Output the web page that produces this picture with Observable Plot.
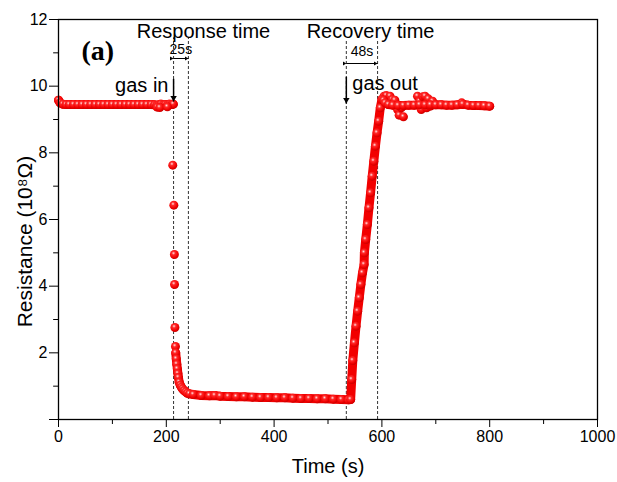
<!DOCTYPE html>
<html>
<head>
<meta charset="utf-8">
<script src="https://cdn.jsdelivr.net/npm/d3@7"></script>
<script src="https://cdn.jsdelivr.net/npm/@observablehq/plot@0.6"></script>
<style>
  body { margin: 0; background: #fff; }
  #chart { width: 617px; height: 482px; }
</style>
</head>
<body>
<div id="chart"></div>
<script>
// ---- Data (time in s, resistance in 10^8 Ω) ----
const baseTime = [0,3,8,14,20,28,36,44,52,60,68,76,84,92,100,108,116,124,132,140,148,156,164,172,178,182,186,190,194,198,202,206,210,213];
const baseRes  = [9.58,9.5,9.46,9.45,9.45,9.45,9.45,9.45,9.45,9.45,9.45,9.45,9.45,9.45,9.45,9.45,9.45,9.45,9.45,9.45,9.45,9.45,9.45,9.45,9.44,9.42,9.44,9.46,9.44,9.45,9.44,9.46,9.45,9.46];

const dropTime = [212,214,215,215.3,216,217];
const dropRes  = [7.63,6.43,4.95,4.05,2.76,2.19];

const tailTime = [217.5,218.5,219.5,220.5,221.5,222.5,224,226,228,230,233,236,239,243];
const tailRes  = [2.0,1.82,1.66,1.52,1.38,1.26,1.12,1.03,0.97,0.92,0.87,0.83,0.79,0.77];

const plateauTime = [250,265,280,290,300,315,330,345,360,375,390,405,420,435,450,465,480,495,510,525,538];
const plateauRes  = [0.75,0.72,0.71,0.72,0.70,0.69,0.68,0.68,0.67,0.66,0.66,0.65,0.65,0.64,0.63,0.63,0.62,0.62,0.61,0.60,0.59];

const recoveryTime = [542,544,546,549,552,555,558,561,564,567,567.5,570,573,576,579,582,585,588,591,594,597,600];
const recoveryRes  = [0.6,1.2,1.77,2.3,2.8,3.25,3.65,4.05,4.4,4.65,5.0,5.4,5.85,6.35,6.8,7.3,7.75,8.2,8.6,8.95,9.35,9.6];

const afterTime = [603,606,612,620,630,640,650,660,670,680,690,700,710,720,730,740,750,760,770,780,790,800];
const afterRes  = [9.58,9.5,9.45,9.43,9.42,9.42,9.43,9.43,9.44,9.44,9.44,9.44,9.44,9.43,9.43,9.44,9.46,9.43,9.42,9.42,9.41,9.4];

const bumpTime = [183,188,202,604,608,611,615,619,624,629,632,636,640,666,670,673,676,680,683,686,690,694,748];
const bumpRes  = [9.37,9.36,9.38,9.7,9.72,9.55,9.7,9.6,9.58,9.3,9.13,9.35,9.08,9.7,9.55,9.3,9.68,9.7,9.35,9.62,9.4,9.55,9.5];

// axis ticks
const xTicks = [0,200,400,600,800,1000];
const xMinor = [100,300,500,700,900];
const yTicks = [0,2,4,6,8,10,12];
const yMinor = [1,3,5,7,9,11];

// annotation values (data units)
const gasInTime = 213.5, gasOutTime = 534;
const responseLines = [213.5, 241];
const recoveryLines = [534, 592];
const labels = [
  {t: 269, r: 11.64, text: "Response time", size: 20, anchor: "middle"},
  {t: 579, r: 11.64, text: "Recovery time", size: 20, anchor: "middle"},
  {t: 227, r: 11.1, text: "25s", size: 14, anchor: "middle"},
  {t: 563, r: 11.04, text: "48s", size: 14, anchor: "middle"},
  {t: 204, r: 10.02, text: "gas in", size: 20, anchor: "end"},
  {t: 545, r: 10.08, text: "gas out", size: 20, anchor: "start"}
];

const zip = (ts, rs) => ts.map((t, i) => ({t, r: rs[i]}));
const baseline = zip(baseTime, baseRes);
const mainTrace = [
  ...zip(tailTime, tailRes),
  ...zip(plateauTime, plateauRes),
  ...zip(recoveryTime, recoveryRes),
  ...zip(afterTime, afterRes)
];
const scatter = [...zip(dropTime, dropRes), ...zip(bumpTime, bumpRes)];
const allDots = [...baseline, ...scatter, ...mainTrace];

const vlines = [...responseLines, ...recoveryLines].map(t => ({t}));
const band = {x: "t", y: "r", stroke: "#f20000", strokeWidth: 9, strokeLinecap: "round", strokeLinejoin: "round"};

const plot = Plot.plot({
  width: 617,
  height: 482,
  marginLeft: 58,
  marginRight: 20,
  marginTop: 19,
  marginBottom: 63,
  style: {fontFamily: "'Liberation Sans', Arial, sans-serif", fontSize: "16px", color: "black", background: "white"},
  x: {domain: [0, 1000], ticks: xTicks, tickSize: 8, tickPadding: 3, label: null, tickFormat: d => String(d)},
  y: {domain: [0, 12], ticks: yTicks, tickSize: 9, tickPadding: 2, label: null,
      tickFormat: d => d === 0 ? "" : String(d)},
  marks: [
    // minor ticks
    Plot.ruleX(xMinor, {x: d => d, y1: 0, y2: -0.15, stroke: "black", strokeWidth: 1}),
    Plot.ruleY(yMinor, {y: d => d, x1: 0, x2: -9, stroke: "black", strokeWidth: 1}),
    // dashed guide lines
    Plot.ruleX(vlines.slice(0, 2), {x: "t", y1: 0, y2: 11.45, stroke: "#333", strokeWidth: 1, strokeDasharray: "3,2"}),
    Plot.ruleX(vlines.slice(2), {x: "t", y1: 0, y2: 11.4, stroke: "#333", strokeWidth: 1, strokeDasharray: "3,2"}),
    // data bands and spheres
    Plot.line(baseline, band),
    Plot.line(mainTrace, band),
    Plot.dot(allDots, {x: "t", y: "r", r: 4.5, fill: "url(#ball)", stroke: "none"}),
    // arrows
    Plot.link([{x1: responseLines[0], x2: responseLines[1]}], {x1: "x1", x2: "x2", y1: 10.83, y2: 10.83, stroke: "black", strokeWidth: 1, markerStart: "arrow", markerEnd: "arrow"}),
    Plot.link([{x1: recoveryLines[0], x2: recoveryLines[1]}], {x1: "x1", x2: "x2", y1: 10.68, y2: 10.68, stroke: "black", strokeWidth: 1, markerStart: "arrow", markerEnd: "arrow"}),
    Plot.link([{t: gasInTime}], {x1: "t", x2: "t", y1: 10.22, y2: 9.54, stroke: "black", strokeWidth: 1.5, markerEnd: "arrow"}),
    Plot.link([{t: gasOutTime}], {x1: "t", x2: "t", y1: 10.28, y2: 9.48, stroke: "black", strokeWidth: 1.5, markerEnd: "arrow"}),
    // annotation text
    ...labels.map(l => Plot.text([l], {x: "t", y: "r", text: "text", fontSize: l.size, textAnchor: l.anchor, fill: "black"})),
    Plot.text(["(a)"], {frameAnchor: "top-left", dx: 23, dy: 21, fontSize: 28, fontWeight: "bold", fontFamily: "'Liberation Serif', 'Times New Roman', serif", textAnchor: "start", lineAnchor: "top", fill: "black"}),
    // axis titles
    Plot.text(["Time (s)"], {frameAnchor: "bottom", dy: 47, fontSize: 20, lineAnchor: "middle", textAnchor: "middle", fill: "black"}),
    Plot.text(["Resistance (10⁸Ω)"], {frameAnchor: "left", dx: -33, dy: 22, rotate: -90, fontSize: 21, textAnchor: "middle", lineAnchor: "middle", fill: "black"}),
    Plot.frame({stroke: "black", strokeWidth: 1.3})
  ]
});

// sphere gradient + filled arrowheads
const svg = d3.select(plot);
const defs = svg.insert("defs", ":first-child");
const g = defs.append("radialGradient").attr("id", "ball").attr("cx", "0.4").attr("cy", "0.35").attr("r", "0.65");
g.append("stop").attr("offset", "0").attr("stop-color", "#ffe0e0");
g.append("stop").attr("offset", "0.3").attr("stop-color", "#ff2a2a");
g.append("stop").attr("offset", "0.75").attr("stop-color", "#f00000");
g.append("stop").attr("offset", "1").attr("stop-color", "#c80000");
svg.selectAll("marker").attr("fill", "black").attr("stroke", "none");
svg.selectAll("marker path").attr("d", "M-6,-3.5L0,0L-6,3.5Z").attr("fill", "black").attr("stroke", "none");

document.getElementById("chart").appendChild(plot);
</script>
</body>
</html>
